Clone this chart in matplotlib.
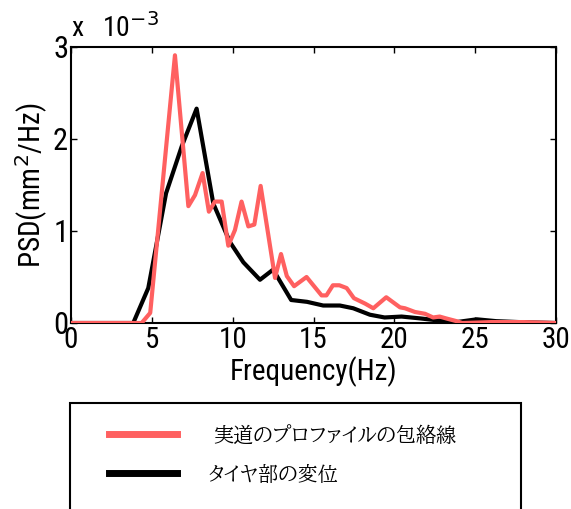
import matplotlib
matplotlib.use("Agg")
import matplotlib.pyplot as plt
from matplotlib.lines import Line2D
from matplotlib.patches import Rectangle

# PSD values in units of 1e-3 mm^2/Hz
freq_road = [0, 4.37, 4.9, 6.43, 7.26, 7.67, 8.14, 8.53, 8.9, 9.32, 9.73, 10.14,
             10.55, 10.97, 11.34, 11.73, 12.62, 12.99, 13.35, 13.8, 14.57, 15.5,
             15.8, 16.2, 16.6, 17.05, 17.5, 18.2, 18.7, 19.5, 20.35, 20.66, 21.27,
             21.9, 22.4, 22.8, 23.2, 23.85, 24.2, 26.0, 28.0, 30]
psd_road = [0, 0, 0.11, 2.91, 1.27, 1.39, 1.63, 1.21, 1.32, 1.32, 0.84, 1.01,
            1.32, 1.05, 1.07, 1.49, 0.49, 0.75, 0.51, 0.40, 0.50, 0.30,
            0.30, 0.41, 0.41, 0.38, 0.27, 0.21, 0.16, 0.28, 0.17, 0.16, 0.12,
            0.10, 0.06, 0.07, 0.05, 0.02, 0.0, 0.01, 0.01, 0.0]

freq_tire = [0, 3.85, 4.78, 5.88, 6.85, 7.77, 8.8, 9.83, 10.66, 11.69, 12.5,
             13.62, 14.6, 15.6, 16.63, 17.46, 18.49, 19.4, 20.45, 21.6, 22.6,
             23.85, 25.1, 26.3, 27.7, 30]
psd_tire = [0, 0, 0.38, 1.41, 1.92, 2.33, 1.30, 0.88, 0.66, 0.47, 0.58,
            0.25, 0.23, 0.19, 0.19, 0.16, 0.09, 0.06, 0.07, 0.05, 0.03,
            0.01, 0.04, 0.02, 0.01, 0.0]

xticks = [0, 5, 10, 15, 20, 25, 30]
yticks = [0, 1, 2, 3]
labels = ["実道のプロファイルの包絡線", "タイヤ部の変位"]
red = "#ff6060"

sans = ["Roboto Condensed", "Liberation Sans", "DejaVu Sans"]
mincho = ["BIZ UDPMincho", "Noto Serif CJK JP", "Noto Sans CJK JP", "DejaVu Sans"]

fig = plt.figure(figsize=(5.71, 5.09), dpi=100)
ax = fig.add_axes([71 / 571, 1 - 323 / 509, 485 / 571, 276 / 509])

ax.plot(freq_tire, [v * 1e-3 for v in psd_tire], color="black", lw=3.0, zorder=2)
ax.plot(freq_road, [v * 1e-3 for v in psd_road], color=red, lw=3.0, zorder=3)

ax.set_xlim(0, 30)
ax.set_ylim(0, 3e-3)
ax.set_xticks(xticks)
ax.set_yticks([v * 1e-3 for v in yticks])
ax.set_xticklabels([str(v) for v in xticks], family=sans, fontsize=21)
ax.set_yticklabels([str(v) for v in yticks], family=sans, fontsize=22)
ax.tick_params(direction="in", length=4, width=1, top=True, right=True, pad=2)
for s in ax.spines.values():
    s.set_linewidth(1.5)

ax.set_xlabel("Frequency(Hz)", family=sans, fontsize=21, labelpad=2)
ax.set_ylabel("PSD(mm$^2$/Hz)", family=sans, fontsize=21, labelpad=2)
ax.text(0.0, 1.015, "x   10$^{-3}$", transform=ax.transAxes, family=sans,
        fontsize=20, va="bottom", ha="left")

# legend box drawn by hand, runs off the bottom of the figure
fig.patches.append(Rectangle((70 / 571, -0.05), 451 / 571, 0.05 + 1 - 403 / 509,
                             transform=fig.transFigure, fill=False,
                             edgecolor="black", lw=1.5))
fig.lines.append(Line2D([109 / 571, 177 / 571], [1 - 434 / 509] * 2,
                        transform=fig.transFigure, color=red, lw=5))
fig.lines.append(Line2D([109 / 571, 177 / 571], [1 - 473 / 509] * 2,
                        transform=fig.transFigure, color="black", lw=5))
fig.text(213 / 571, 1 - 434 / 509, labels[0], family=mincho,
         fontsize=14.5, va="center", ha="left")
fig.text(207 / 571, 1 - 473 / 509, labels[1], family=mincho,
         fontsize=14.5, va="center", ha="left")

fig.savefig("out.png", dpi=100)
